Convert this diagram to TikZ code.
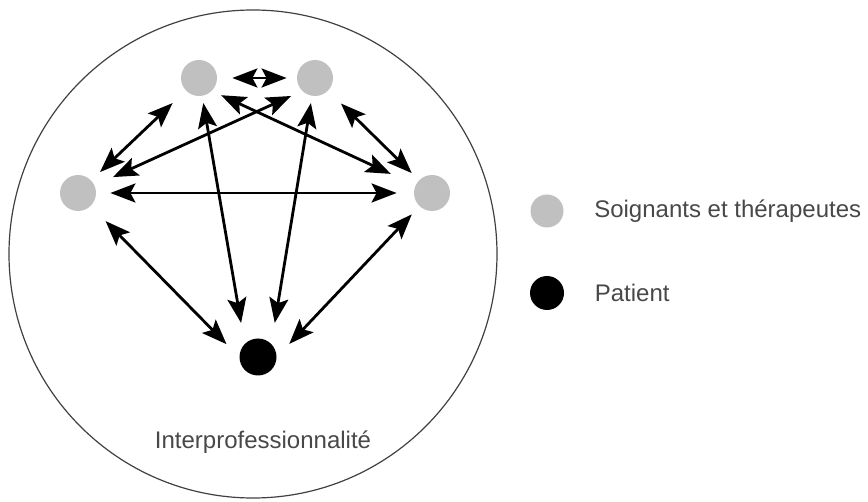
\documentclass[tikz,border=0pt]{standalone}
\usepackage{fontspec}
\setmainfont{Liberation Sans}
\usetikzlibrary{arrows.meta,positioning}
\definecolor{soignant}{RGB}{192,192,192}
\definecolor{texte}{RGB}{72,72,72}

\begin{document}
\begin{tikzpicture}[x=0.5pt, y=-0.5pt, >={Stealth[length=12.5pt,width=9.5pt,inset=2.5pt]},
  node distance=1cm and 1cm,
  pro/.style={circle, fill=soignant, minimum size=18pt, inner sep=0pt},
  pat/.style={circle, fill=black, minimum size=18.5pt, inner sep=0pt},
  lien/.style={<->, line width=1.4pt, shorten >=7pt, shorten <=7pt},
  lab/.style={text=texte, inner sep=0pt, font=\fontsize{12}{14}\selectfont}]
  \useasboundingbox (0,0) rectangle (868,502);

  % Outer circle
  \draw[line width=0.6pt, draw=black!75] (253,254) circle[radius=244];

  % Define nodes
  \node (S1) [pro] at (199,78) {};
  \node (S2) [pro] at (315,78) {};
  \node (S3) [pro] at (78,193) {};
  \node (S4) [pro] at (432,193) {};
  \node (P) [pat] at (258,357) {};
  \node (inter) [lab] at (263,442) {Interprofessionnalité};

  % Legend
  \node (legS) [pro, minimum size=16.5pt] at (547,211) {};
  \node (legP) [pat, minimum size=17pt] at (547,293) {};
  \node (txtS) [lab, right=15pt of legS] {Soignants et thérapeutes};
  \node (txtP) [lab, right=15pt of legP] {Patient};

  % Draw arrows
  \draw[lien, shorten <=7.5pt, shorten >=5pt] (S1) to (S2);
  \draw[lien, shorten <=9pt, shorten >=6pt] (S1) to (S3);
  \draw[lien, shorten <=9pt, shorten >=5pt] (S2) to (S4);
  \draw[lien, shorten <=6pt, shorten >=10pt] (S2.south west) to (S3);
  \draw[lien, shorten <=5pt, shorten >=13.5pt] (S1.south east) to (S4);
  \draw[lien, shorten <=7pt, shorten >=8.5pt] (S3) to (S4);
  \draw[lien, shorten <=3.5pt, shorten >=10.5pt] (S1) to (P.north west);
  \draw[lien, shorten <=3.5pt, shorten >=10.5pt] (S2) to (P.north east);
  \draw[lien, shorten <=10.5pt, shorten >=9pt] (S3) to (P.west);
  \draw[lien, shorten <=5.5pt, shorten >=9pt] (S4) to (P.east);
\end{tikzpicture}
\end{document}
